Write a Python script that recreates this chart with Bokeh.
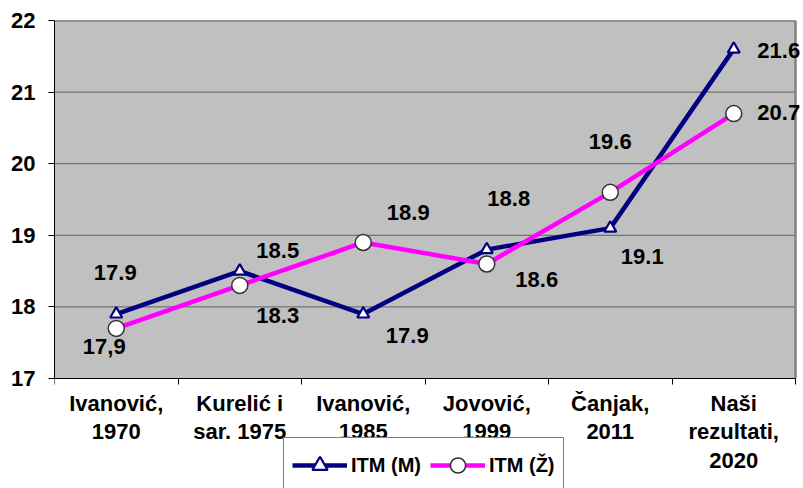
from bokeh.plotting import figure
from bokeh.models import Range1d, FixedTicker, Legend, LegendItem, LabelSet, ColumnDataSource, LinearAxis
from bokeh.core.properties import value
from bokeh.embed import file_html
from bokeh.resources import INLINE

# ---- data ----
categories = ["Ivanović,\n1970", "Kurelić i\nsar. 1975", "Ivanović,\n1985",
              "Jovović,\n1999", "Čanjak,\n2011", "Naši\nrezultati,\n2020"]
itm_m = [17.9, 18.5, 17.9, 18.8, 19.1, 21.6]
itm_z = [17.7, 18.3, 18.9, 18.6, 19.6, 20.7]
labels_m = ["17.9", "18.5", "17.9", "18.8", "19.1", "21.6"]
labels_z = ["17,9", "18.3", "18.9", "18.6", "19.6", "20.7"]
y_ticks = [17, 18, 19, 20, 21, 22]
series_names = ["ITM (M)", "ITM (Ž)"]

# ---- label placement (screen px, style only) ----
m_dx = [-1, 38, 44, 22, 32, 45]
m_dy = [42, 21, -21, 51, -28, -1]
z_dx = [-12, 38, 45, 50, 0, 45]
z_dy = [-18, -30, 30, -16, 51, 1]

FONT = "Liberation Sans"
FS = "22px"

W, H = 803, 488
AREA_LEFT, AREA_RIGHT, AREA_TOP, AREA_BOTTOM = 54, 795, 20, 378

n = len(categories)
xs = [i + 0.5 for i in range(n)]
PX_PER_UNIT = (AREA_BOTTOM - AREA_TOP) / (y_ticks[-1] - y_ticks[0])
y_low = y_ticks[0] - (H - AREA_BOTTOM) / PX_PER_UNIT
x_hi = n * (W - AREA_LEFT) / (AREA_RIGHT - AREA_LEFT)

p = figure(width=W, height=H, output_backend="svg", toolbar_location=None,
           x_range=Range1d(0, x_hi), y_range=Range1d(y_low, y_ticks[-1]),
           x_axis_location=None, y_axis_location=None,
           min_border_left=AREA_LEFT, min_border_right=0, min_border_top=AREA_TOP,
           min_border_bottom=0)

p.background_fill_color = "white"
p.border_fill_color = "white"
p.outline_line_color = None
p.xgrid.visible = False
p.ygrid.visible = False

# gray plot area
p.quad(left=[0], right=[n], bottom=[y_ticks[0]], top=[y_ticks[-1]],
       fill_color="#c0c0c0", line_color=None, level="image")

# horizontal grid lines
p.segment(x0=[0] * len(y_ticks), x1=[n] * len(y_ticks), y0=y_ticks, y1=y_ticks,
          line_color="#606060", line_width=1, level="underlay")

# right / top border of plot area
p.line([n, n], [y_ticks[0], y_ticks[-1]], line_color="#808080", line_width=2.5, level="underlay")
p.line([0, n], [y_ticks[-1], y_ticks[-1]], line_color="#808080", line_width=2.5, level="underlay")

# y axis
ya = LinearAxis(ticker=FixedTicker(ticks=y_ticks), bounds=(y_ticks[0], y_ticks[-1]))
ya.major_tick_out = 6
ya.major_tick_in = 0
ya.minor_tick_line_color = None
ya.axis_line_color = "black"
ya.major_tick_line_color = "black"
ya.major_label_standoff = 13
ya.major_label_text_font = FONT
ya.major_label_text_font_style = "bold"
ya.major_label_text_font_size = FS
ya.major_label_text_color = "black"
p.add_layout(ya, "left")

# x axis (drawn at y = 17 inside the frame)
xa = LinearAxis(ticker=FixedTicker(ticks=xs, minor_ticks=list(range(n + 1))),
                fixed_location=y_ticks[0], bounds=(0, n))
xa.major_label_overrides = {x: c for x, c in zip(xs, categories)}
xa.major_tick_line_color = None
xa.minor_tick_out = 6
xa.minor_tick_in = 0
xa.minor_tick_line_color = "black"
xa.axis_line_color = "black"
xa.major_label_standoff = 6
xa.major_label_text_font = FONT
xa.major_label_text_font_style = "bold"
xa.major_label_text_font_size = FS
xa.major_label_text_color = "black"
xa.major_label_text_line_height = 1.15
p.add_layout(xa, "below")

# series
lm = p.line(xs, itm_m, line_color="#000080", line_width=4.5)
sm = p.scatter(xs, itm_m, marker="triangle", size=12, fill_color="white",
               line_color="#000080", line_width=2.2)
lz = p.line(xs, itm_z, line_color="#ff00ff", line_width=4.5)
sz = p.scatter(xs, itm_z, marker="circle", size=16, fill_color="white",
               line_color="#333333", line_width=1.5)

# data labels
src_m = ColumnDataSource(dict(x=xs, y=itm_m, t=labels_m, dx=m_dx, dy=m_dy))
src_z = ColumnDataSource(dict(x=xs, y=itm_z, t=labels_z, dx=z_dx, dy=z_dy))
for src in (src_m, src_z):
    ls = LabelSet(x="x", y="y", text="t", x_offset="dx", y_offset="dy", source=src,
                  text_align="center", text_baseline="middle",
                  text_font=value(FONT), text_font_style="bold", text_font_size=FS,
                  text_color="black")
    p.add_layout(ls)

# legend
legend = Legend(items=[LegendItem(label=series_names[0], renderers=[lm, sm]),
                       LegendItem(label=series_names[1], renderers=[lz, sz])],
                orientation="horizontal", location=(229, -5),
                padding=8, spacing=9, margin=0,
                glyph_width=55, glyph_height=38, label_height=38, label_standoff=4,
                border_line_color="black", border_line_width=1,
                background_fill_color="white", background_fill_alpha=1,
                label_text_font=FONT, label_text_font_style="bold",
                label_text_font_size="20px", label_text_color="black")
p.add_layout(legend, "center")

open("out.html", "w").write(file_html(p, INLINE))
